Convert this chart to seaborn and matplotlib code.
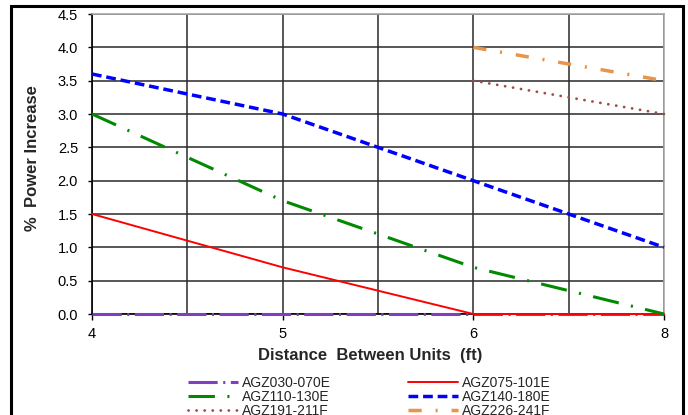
import pandas as pd
import matplotlib
matplotlib.use("Agg")
import matplotlib.pyplot as plt
import seaborn as sns
import numpy as np

# distance categories (Excel category axis)
distance = ["4", "4.5", "5", "5.5", "6", "7", "8"]
shown_labels = ["4", "", "5", "", "6", "", "8"]

agz030_070e = [0.0, 0.0, 0.0, 0.0, 0.0, 0.0, 0.0]
agz075_101e = [1.5, 1.1, 0.7, 0.35, 0.0, 0.0, 0.0]
agz110_130e = [3.0, 2.35, 1.7, 1.2, 0.7, 0.35, 0.0]
agz140_180e = [3.6, 3.3, 3.0, 2.5, 2.0, 1.5, 1.0]
agz191_211f = [np.nan, np.nan, np.nan, np.nan, 3.5, 3.25, 3.0]
agz226_241f = [np.nan, np.nan, np.nan, np.nan, 4.0, 3.75, 3.5]

sns.set_style("white")
plt.rcParams["font.family"] = ["Liberation Sans", "DejaVu Sans"]
plt.rcParams["lines.scale_dashes"] = False

series = [
    ("AGZ030-070E", agz030_070e, "#7F3FBF", 2.2, (0, (21, 4, 1.5, 4))),
    ("AGZ075-101E", agz075_101e, "#FF0000", 1.4, "-"),
    ("AGZ110-130E", agz110_130e, "#008A00", 2.2, (0, (19, 9, 1.5, 9))),
    ("AGZ140-180E", agz140_180e, "#0000FF", 2.5, (0, (7, 3.5))),
    ("AGZ191-211F", agz191_211f, "#A04A4A", 2.0, (0, (0.1, 5.7))),
    ("AGZ226-241F", agz226_241f, "#E8944A", 2.5, (0, (9.5, 10, 1.5, 10))),
]

fig = plt.figure(figsize=(6.88, 4.15), dpi=100)
ax = fig.add_axes([92 / 688, 1 - 314 / 415, (664 - 92) / 688, (314 - 14) / 415])

for name, vals, color, lw, ls in series:
    df = pd.DataFrame({"distance": distance, "increase": vals})
    sns.lineplot(data=df, x="distance", y="increase", ax=ax, color=color,
                 linewidth=lw, linestyle=ls, label=name, sort=False,
                 dash_capstyle="round" if name == "AGZ191-211F" else "butt",
                 zorder=3, clip_on=False)

ax.set_xlim(0, len(distance) - 1)
ax.set_ylim(0, 4.5)
ax.set_yticks(np.arange(0, 4.51, 0.5))
ax.yaxis.set_major_formatter(matplotlib.ticker.FormatStrFormatter("%.1f"))

# major ticks where labels are shown, gridlines at every category
major = [i for i, l in enumerate(shown_labels) if l]
minor = [i for i, l in enumerate(shown_labels) if not l]
ax.set_xticks(major)
ax.set_xticklabels([shown_labels[i] for i in major])
ax.set_xticks(minor, minor=True)
ax.tick_params(axis="x", which="minor", length=0)
ax.tick_params(axis="both", which="major", labelsize=10.5, width=1,
               color="black", labelcolor="black", bottom=True, left=True)
ax.tick_params(axis="y", length=3, pad=7)
ax.tick_params(axis="x", length=4.5, pad=5)

ax.grid(True, which="both", color="#2a2a2a", linewidth=1.1)
ax.set_axisbelow(True)

for side in ["top", "right"]:
    ax.spines[side].set_color("#A8A8A8")
    ax.spines[side].set_linewidth(1.2)
for side in ["left", "bottom"]:
    ax.spines[side].set_color("black")
    ax.spines[side].set_linewidth(1.2)
    ax.spines[side].set_zorder(2)

ax.set_xlabel("Distance  Between Units  (ft)", fontsize=12, fontweight="bold", va="center")
ax.xaxis.set_label_coords(0.486, -0.137)
ax.set_ylabel("%  Power Increase", fontsize=12, fontweight="bold", va="center")
ax.yaxis.set_label_coords(-0.104, 0.52)

handles, labels = ax.get_legend_handles_labels()
ax.get_legend().remove()
order = ["AGZ030-070E", "AGZ110-130E", "AGZ191-211F",
         "AGZ075-101E", "AGZ140-180E", "AGZ226-241F"]
hmap = dict(zip(labels, handles))
fig.legend([hmap[o] for o in order], order, ncol=2, frameon=False,
           loc="upper left", bbox_to_anchor=(181 / 688, 1 - 369 / 415),
           fontsize=10, handlelength=3.6, handletextpad=0.3,
           columnspacing=5.5, labelspacing=0.0, borderpad=0)

# outer chart border
fig.patches.append(matplotlib.patches.Rectangle(
    (11 / 688, -0.05), (683 - 11) / 688, 1.05 - 6 / 415,
    transform=fig.transFigure, fill=False, edgecolor="black",
    linewidth=2.2, clip_on=False))

fig.savefig("out.png", dpi=100)
